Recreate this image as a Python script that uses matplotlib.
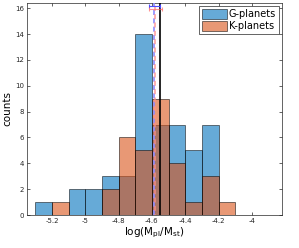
import numpy as np
import matplotlib
matplotlib.use("Agg")
import matplotlib.pyplot as plt

bin_edges = [-5.3, -5.2, -5.1, -5.0, -4.9, -4.8, -4.7, -4.6, -4.5, -4.4, -4.3, -4.2, -4.1]
g_counts = [1, 0, 2, 2, 3, 3, 14, 7, 7, 5, 7, 0]
k_counts = [0, 1, 0, 0, 2, 6, 5, 9, 4, 1, 3, 1]
g_mean, g_err = -4.585, 0.033
k_mean, k_err = -4.578, 0.037
all_mean = -4.553
xticks = [-5.2, -5.0, -4.8, -4.6, -4.4, -4.2, -4.0]
xticklabels = ["-5.2", "-5", "-4.8", "-4.6", "-4.4", "-4.2", "-4"]
yticks = [0, 2, 4, 6, 8, 10, 12, 14, 16]

blue = (0.0, 0.447, 0.741)
orange = (0.85, 0.325, 0.098)

fig = plt.figure(figsize=(2.99, 2.48), dpi=100)
ax = fig.add_axes([0.090, 0.133, 0.853, 0.855])

left = np.array(bin_edges[:-1])
widths = np.diff(bin_edges)
ax.bar(left, g_counts, width=widths, align='edge', color=blue, alpha=0.6,
       edgecolor='black', linewidth=0.6, label='G-planets')
ax.bar(left, k_counts, width=widths, align='edge', color=orange, alpha=0.6,
       edgecolor='black', linewidth=0.6, label='K-planets')

ax.axvline(g_mean, color=(0.55, 0.55, 1.0), linestyle=(0, (3, 2)), linewidth=1.2, zorder=3)
ax.axvline(k_mean - 0.004, color=(1.0, 0.55, 0.55), linestyle=(2.5, (3, 2)), linewidth=1.2, alpha=0.8, zorder=3)
ax.axvline(all_mean, color='black', linewidth=1.2, zorder=4)
ax.errorbar([g_mean], [16.15], xerr=[g_err], color=(0.3, 0.3, 1.0), capsize=1.5,
            linewidth=0.8, capthick=0.8, zorder=5)
ax.errorbar([k_mean], [15.95], xerr=[k_err], color=(1.0, 0.4, 0.4), capsize=1.5,
            linewidth=0.8, capthick=0.8, alpha=0.7, zorder=5)

ax.set_xlim(-5.35, -3.82)
ax.set_ylim(0, 16.4)
ax.set_xticks(xticks)
ax.set_xticklabels(xticklabels)
ax.set_yticks(yticks)
ax.tick_params(direction='in', length=2.5, width=0.5, labelsize=5, colors='#262626',
               top=True, right=True, pad=2)
for s in ax.spines.values():
    s.set_linewidth(0.5)
    s.set_color('#262626')

ax.set_xlabel(r'log(M$_{\rm pl}$/M$_{\rm st}$)', fontsize=7.5, labelpad=1)
ax.set_ylabel('counts', fontsize=7.5, labelpad=2)

leg = ax.legend(loc='upper right', fontsize=7, frameon=True, fancybox=False,
                edgecolor='#262626', framealpha=1, handlelength=2.6, handleheight=1.3,
                borderaxespad=0.35, borderpad=0.25, labelspacing=0.15, handletextpad=0.2)
leg.get_frame().set_linewidth(0.5)

fig.savefig('out.png', dpi=100)
